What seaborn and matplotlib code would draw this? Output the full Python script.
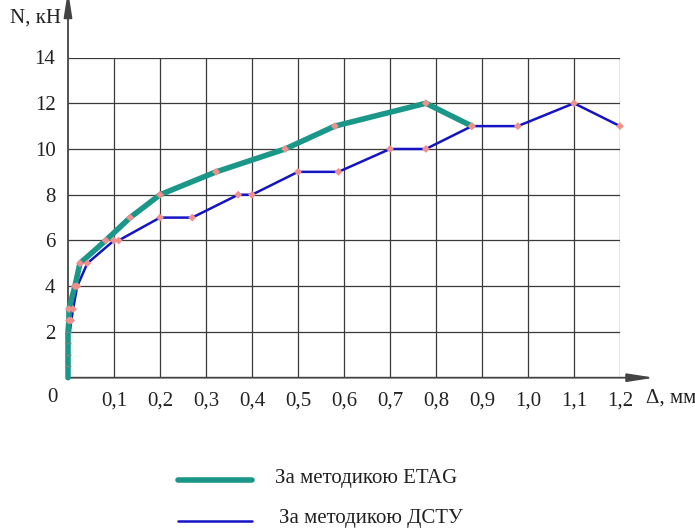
import matplotlib
matplotlib.use("Agg")
import matplotlib.pyplot as plt
import seaborn as sns
import pandas as pd
from matplotlib.lines import Line2D

# Data
etag_x = [0.0, 0.0, 0.0, 0.0, 0.0, 0.002, 0.002, 0.015, 0.026, 0.082, 0.135, 0.2, 0.322, 0.472, 0.58, 0.778, 0.878]
etag_y = [0.0, 0.5, 1.0, 1.5, 2.0, 2.5, 3.0, 4.0, 5.0, 6.0, 7.0, 8.0, 9.0, 10.0, 11.0, 12.0, 11.0]
dstu_x = [0.004, 0.007, 0.011, 0.02, 0.042, 0.1, 0.11, 0.2, 0.27, 0.37, 0.4, 0.5, 0.588, 0.7, 0.778, 0.878, 0.978, 1.1, 1.2]
dstu_y = [2.0, 2.5, 3.0, 4.0, 5.0, 6.0, 6.0, 7.0, 7.0, 8.0, 8.0, 9.0, 9.0, 10.0, 10.0, 11.0, 11.0, 12.0, 11.0]
x_ticks = [0.1, 0.2, 0.3, 0.4, 0.5, 0.6, 0.7, 0.8, 0.9, 1.0, 1.1, 1.2]
x_tick_labels = ["0,1", "0,2", "0,3", "0,4", "0,5", "0,6", "0,7", "0,8", "0,9", "1,0", "1,1", "1,2"]
y_ticks = [2, 4, 6, 8, 10, 12, 14]
y_tick_labels = ["2", "4", "6", "8", "10", "12", "14"]
series_names = ["За методикою ETAG", "За методикою ДСТУ"]
x_label = "Δ, мм"
y_label = "N, кН"

sns.set_style("white")
plt.rcParams["font.family"] = ["Liberation Serif", "DejaVu Serif"]

TEAL = "#1b978a"
BLUE = "#1414c4"
PINK = "#f0908c"
TXT = "#222222"
FS = 15

fig = plt.figure(figsize=(6.95, 5.31), dpi=100)
ax = fig.add_axes([68 / 695, (531 - 377.7) / 531, 552 / 695, 320.2 / 531])

df_e = pd.DataFrame({"x": etag_x, "y": etag_y})
df_d = pd.DataFrame({"x": dstu_x, "y": dstu_y})

sns.lineplot(data=df_d, x="x", y="y", sort=False, estimator=None, color=BLUE, lw=1.8, ax=ax, zorder=3)
sns.lineplot(data=df_e, x="x", y="y", sort=False, estimator=None, color=TEAL, lw=4, ax=ax, zorder=4)
for ln in ax.lines:
    ln.set_clip_on(False)

# markers
e_main = df_e[df_e["y"] >= 2.5]
e_small = df_e[(df_e["y"] > 0) & (df_e["y"] < 2.5)]
d_main = df_d[df_d["y"] >= 2.5]
sns.scatterplot(data=e_small, x="x", y="y", marker="_", s=20, color="#6a8a86", linewidth=1, ax=ax, zorder=5, clip_on=False)
sns.scatterplot(data=d_main, x="x", y="y", marker="D", s=16, color=PINK, edgecolor="none", ax=ax, zorder=6, clip_on=False)
sns.scatterplot(data=e_main, x="x", y="y", marker="D", s=16, color=PINK, edgecolor="none", ax=ax, zorder=6, clip_on=False)

ax.set_xlim(0, 1.2)
ax.set_ylim(0, 14)
ax.set_xticks(x_ticks)
ax.set_xticklabels(x_tick_labels, fontsize=FS)
ax.set_yticks(y_ticks)
ax.set_yticklabels(y_tick_labels, fontsize=FS)
ax.tick_params(axis="both", length=0, colors=TXT)
ax.tick_params(axis="x", pad=10)
ax.tick_params(axis="y", pad=9)
ax.grid(True, color="#3a3a3a", lw=0.9)
ax.set_xlabel("")
ax.set_ylabel("")
for s in ax.spines.values():
    s.set_visible(False)

# axis arrows
ax.annotate("", xy=(0, 1.21), xytext=(0, 0), xycoords="axes fraction",
            arrowprops=dict(arrowstyle="-|>,head_length=1.6,head_width=0.25", color="#444444", lw=1.3,
                            shrinkA=0, shrinkB=0), annotation_clip=False, zorder=2)
ax.annotate("", xy=(1.062, 0), xytext=(0, 0), xycoords="axes fraction",
            arrowprops=dict(arrowstyle="-|>,head_length=1.6,head_width=0.25", color="#444444", lw=1.3,
                            shrinkA=0, shrinkB=0), annotation_clip=False, zorder=2)

fig.text(52 / 695, 1 - 398 / 531, "0", fontsize=FS, ha="center", va="center", color=TXT)
fig.text(10 / 695, 1 - 18 / 531, y_label, fontsize=FS, ha="left", va="center", color=TXT)
fig.text(646 / 695, 1 - 398 / 531, x_label, fontsize=FS, ha="left", va="center", color=TXT)

# legend
fig.add_artist(Line2D([178 / 695, 252 / 695], [1 - 480 / 531, 1 - 480 / 531], color=TEAL, lw=4, solid_capstyle="round"))
fig.add_artist(Line2D([178 / 695, 252 / 695], [1 - 521 / 531, 1 - 521 / 531], color=BLUE, lw=1.8, solid_capstyle="round"))
fig.text(275 / 695, 1 - 478 / 531, series_names[0], fontsize=FS, ha="left", va="center", color=TXT)
fig.text(279 / 695, 1 - 519 / 531, series_names[1], fontsize=FS, ha="left", va="center", color=TXT)

fig.savefig("out.png", dpi=100)
